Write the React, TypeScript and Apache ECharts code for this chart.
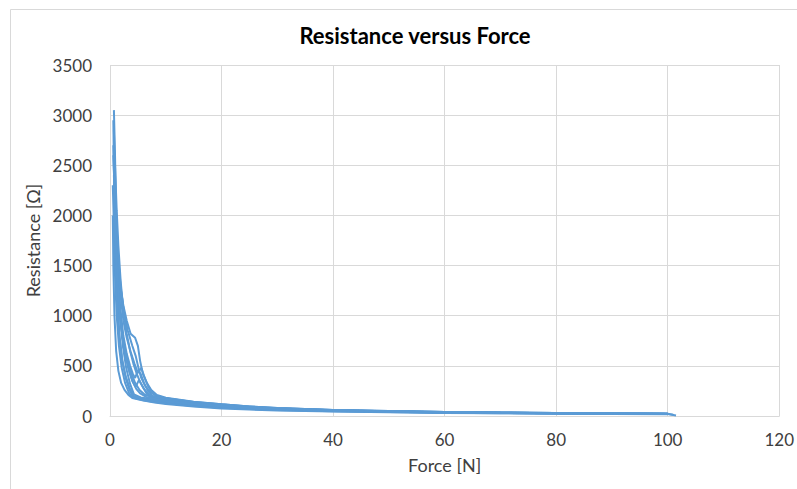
import React, { useEffect, useRef } from "react";
import * as echarts from "echarts";

const TITLE = "Resistance versus Force";
const X_NAME = "Force [N]";
const Y_NAME = "Resistance [Ω]";
const X_TICKS = [0, 20, 40, 60, 80, 100, 120];
const Y_TICKS = [0, 500, 1000, 1500, 2000, 2500, 3000, 3500];

// Each cycle: [force N, resistance Ω]
const cycleA: number[][] = [[0.6, 2700], [0.8, 2200], [1.0, 1700], [1.3, 1200], [1.7, 800], [2.2, 550], [2.8, 380], [3.5, 260], [4.2, 190], [6, 165], [8, 150], [10, 138], [15, 110], [20, 90], [25, 76], [30, 65], [40, 51], [50, 42], [60, 35], [70, 30], [80, 26], [90, 23], [100, 20], [101.5, 6]];
const cycleB: number[][] = [[0.7, 3050], [0.9, 2600], [1.1, 2000], [1.4, 1450], [1.8, 1000], [2.3, 700], [2.9, 480], [3.6, 320], [4.3, 215], [5.5, 185], [8, 165], [10, 152], [15, 124], [20, 104], [25, 86], [30, 73], [40, 57], [50, 46], [60, 38], [70, 32], [80, 28], [90, 25], [100, 22], [101, 12]];
const cycleC: number[][] = [[0.9, 2100], [1.1, 1800], [1.5, 1550], [2.0, 1250], [2.6, 1000], [3.2, 850], [4.0, 700], [4.6, 600], [5.1, 480], [5.6, 380], [6.3, 300], [7.2, 240], [8.3, 200], [10, 176], [15, 138], [20, 114], [25, 93], [30, 78], [40, 60], [50, 48], [60, 40], [70, 34], [80, 29], [90, 26], [100, 23]];
const cycleD: number[][] = [[0.8, 2500], [1.0, 2100], [1.3, 1600], [1.8, 1100], [2.4, 800], [3.0, 620], [3.6, 500], [4.1, 420], [4.5, 380], [5.0, 450], [5.5, 420], [6.1, 330], [6.8, 250], [7.6, 200], [9, 178], [12, 155], [16, 128], [20, 108], [25, 88], [30, 74], [40, 57], [50, 46], [60, 38], [70, 32], [80, 28], [90, 25], [100, 22]];
const cycleE: number[][] = [[0.5, 2300], [0.7, 1900], [0.9, 1400], [1.2, 1000], [1.6, 700], [2.1, 480], [2.7, 330], [3.4, 230], [4.0, 185], [6, 158], [8, 140], [10, 126], [15, 100], [20, 82], [25, 70], [30, 60], [40, 47], [50, 39], [60, 33], [70, 28], [80, 25], [90, 22], [100, 19]];
const cycleF: number[][] = [[1.0, 1900], [1.3, 1600], [1.8, 1300], [2.4, 1100], [3.0, 950], [3.7, 820], [4.5, 780], [5.0, 700], [5.4, 550], [5.9, 420], [6.6, 330], [7.4, 260], [8.4, 210], [10, 182], [15, 142], [20, 116], [25, 95], [30, 80], [40, 61], [50, 49], [60, 41], [70, 35], [80, 30], [90, 26], [100, 23]];
const cycleG: number[][] = [[0.6, 2600], [0.8, 2300], [1.0, 1950], [1.2, 1600], [1.5, 1250], [2.0, 900], [2.6, 650], [3.3, 470], [4.0, 350], [4.6, 290], [5.2, 360], [5.8, 300], [6.5, 230], [7.5, 190], [10, 160], [15, 126], [20, 102], [25, 85], [30, 72], [40, 55], [50, 45], [60, 37], [70, 31], [80, 27], [90, 24], [100, 21]];
const cycleH: number[][] = [[0.5, 2000], [0.6, 1500], [0.8, 1000], [1.1, 650], [1.5, 450], [2.0, 330], [2.6, 260], [3.3, 210], [4.0, 180], [6, 155], [8, 135], [10, 120], [15, 95], [20, 76], [25, 64], [30, 56], [40, 44], [50, 37], [60, 31], [70, 27], [80, 24], [90, 21], [100, 18]];
const cycleI: number[][] = [[0.7, 2850], [0.9, 2400], [1.1, 1950], [1.3, 1500], [1.6, 1150], [2.0, 900], [2.5, 700], [3.1, 560], [3.8, 430], [4.5, 330], [5.3, 260], [6.2, 215], [7.5, 190], [10, 168], [15, 132], [20, 110], [25, 90], [30, 76], [40, 58], [50, 47], [60, 39], [70, 33], [80, 29], [90, 25], [100, 22]];
const cycleJ: number[][] = [[1.0, 2200], [1.2, 1900], [1.5, 1500], [1.9, 1200], [2.4, 950], [3.0, 780], [3.7, 640], [4.4, 520], [5.0, 430], [5.6, 480], [6.1, 400], [6.8, 300], [7.6, 230], [8.6, 195], [10, 178], [15, 140], [20, 118], [25, 96], [30, 80], [40, 61], [50, 49], [60, 40], [70, 34], [80, 30], [90, 26], [100, 23]];
const cycleK: number[][] = [[0.6, 2950], [0.7, 2500], [0.85, 2000], [1.0, 1500], [1.3, 1100], [1.7, 780], [2.2, 560], [2.8, 400], [3.5, 280], [4.3, 200], [6, 172], [8, 156], [10, 142], [15, 116], [20, 96], [25, 80], [30, 68], [40, 53], [50, 43], [60, 36], [70, 31], [80, 27], [90, 24], [100, 21]];
const cycleL: number[][] = [[0.8, 2650], [1.0, 2350], [1.2, 2050], [1.5, 1700], [1.9, 1350], [2.4, 1050], [3.0, 820], [3.6, 650], [4.2, 520], [4.8, 420], [5.4, 340], [6.1, 270], [7.0, 215], [8.2, 185], [10, 165], [15, 130], [20, 106], [25, 88], [30, 74], [40, 56], [50, 45], [60, 37], [70, 32], [80, 28], [90, 24], [100, 21]];
const cycleM: number[][] = [[0.7, 2400], [0.9, 2000], [1.1, 1650], [1.4, 1300], [1.8, 1000], [2.3, 760], [2.9, 580], [3.5, 440], [4.1, 340], [4.7, 270], [5.4, 225], [6.5, 190], [8, 170], [10, 150], [15, 120], [20, 98], [25, 82], [30, 70], [40, 54], [50, 44], [60, 36], [70, 31], [80, 27], [90, 24], [100, 21]];

const CYCLES = [cycleA, cycleB, cycleC, cycleD, cycleE, cycleF, cycleG, cycleH, cycleI, cycleJ, cycleK, cycleL, cycleM];

const LINE_COLOR = "#5b9bd5";
const FONT = "Lato, 'Open Sans', sans-serif";

export default function App() {
  const ref = useRef<HTMLDivElement>(null);
  useEffect(() => {
    if (!ref.current) return;
    const chart = echarts.init(ref.current, undefined, { renderer: "svg" });
    chart.setOption({
      animation: false,
      backgroundColor: "#ffffff",
      textStyle: { fontFamily: FONT },
      title: {
        text: TITLE,
        left: 410,
        textAlign: "center",
        top: 19,
        textStyle: { fontFamily: FONT, fontSize: 22, fontWeight: "bold", color: "#000000" },
      },
      graphic: [
        {
          type: "rect",
          shape: { x: 10.5, y: 9.5, width: 800, height: 500 },
          style: { fill: "none", stroke: "#d9d9d9", lineWidth: 1 },
          silent: true,
        },
      ],
      grid: { left: 110, right: 16, top: 65, bottom: 73 },
      xAxis: {
        type: "value",
        min: X_TICKS[0],
        max: X_TICKS[X_TICKS.length - 1],
        interval: 20,
        name: X_NAME,
        nameLocation: "middle",
        nameGap: 40,
        nameTextStyle: { fontFamily: FONT, fontSize: 18, color: "#404040" },
        axisLine: { show: true, lineStyle: { color: "#d9d9d9" } },
        axisTick: { show: false },
        splitLine: { show: true, lineStyle: { color: "#d9d9d9" } },
        axisLabel: { fontFamily: FONT, fontSize: 17, color: "#404040", margin: 15 },
      },
      yAxis: {
        type: "value",
        min: Y_TICKS[0],
        max: Y_TICKS[Y_TICKS.length - 1],
        interval: 500,
        name: Y_NAME,
        nameLocation: "middle",
        nameGap: 62,
        nameTextStyle: { fontFamily: FONT, fontSize: 18, color: "#404040" },
        axisLine: { show: false },
        axisTick: { show: false },
        splitLine: { show: true, lineStyle: { color: "#d9d9d9" } },
        axisLabel: {
          fontFamily: FONT,
          fontSize: 17,
          color: "#404040",
          margin: 18,
          formatter: (v: number) => String(v),
        },
      },
      series: CYCLES.map((c, i) => ({
        type: "line",
        name: "cycle" + (i + 1),
        data: c,
        showSymbol: false,
        symbol: "none",
        lineStyle: { color: LINE_COLOR, width: 2 },
        itemStyle: { color: LINE_COLOR },
      })),
    });
    return () => chart.dispose();
  }, []);
  return (
    <div
      ref={ref}
      style={{ position: "absolute", left: 0, top: 0, width: 797, height: 489 }}
    />
  );
}
